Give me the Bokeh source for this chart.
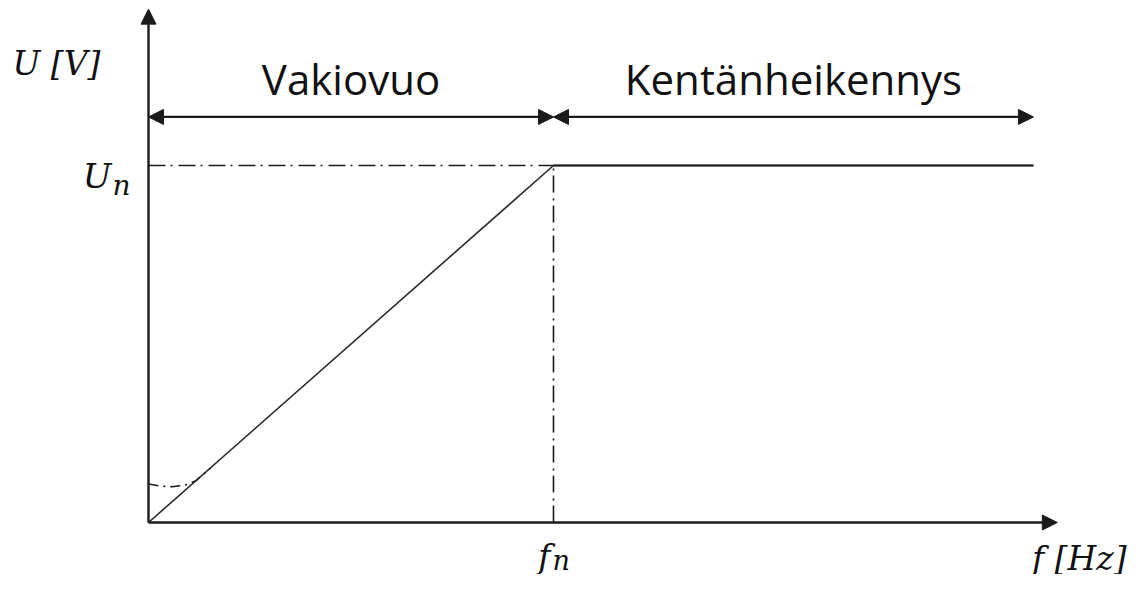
from bokeh.plotting import figure
from bokeh.models import Range1d, Arrow, NormalHead
from bokeh.core.properties import value
from bokeh.embed import file_html
from bokeh.resources import INLINE

# --- data (units: f / f_n and U / U_n) ---
vf_f = [0.0, 1.0, 2.185]          # V/f characteristic
vf_u = [0.0, 1.0, 1.0]
boost_f = [0.0, 0.030, 0.059, 0.091, 0.116, 0.153]   # low-speed boost curve
boost_u = [0.108, 0.102, 0.100, 0.105, 0.116, 0.152]
f_n = 1.0
U_n = 1.0
f_axis_max = 2.244
u_axis_max = 1.438
region_names = ["Vakiovuo", "Kentänheikennys"]
region_start = [0.0, 1.0]
region_end = [1.0, 2.185]
region_u = 1.136

# pixel scale used for the canvas
PX_F = 405.0
PX_U = 357.0
ORIGIN_X, ORIGIN_Y = 148, 522
W, H = 1129, 574
x0 = -ORIGIN_X / PX_F
y0 = -(H - ORIGIN_Y) / PX_U

p = figure(width=W, height=H, output_backend="svg", toolbar_location=None,
           x_range=Range1d(x0, x0 + W / PX_F), y_range=Range1d(y0, y0 + H / PX_U),
           x_axis_type=None, y_axis_type=None, min_border=0)
p.outline_line_color = None
p.grid.visible = False
p.background_fill_color = "white"

ink = "#1a1a1a"
dashdot = "17 5 2 6"

# axes with arrows
p.add_layout(Arrow(end=NormalHead(size=15, fill_color=ink, line_color=ink),
                   x_start=0, y_start=0, x_end=f_axis_max, y_end=0,
                   line_width=2.4, line_color=ink))
p.add_layout(Arrow(end=NormalHead(size=15, fill_color=ink, line_color=ink),
                   x_start=0, y_start=0, x_end=0, y_end=u_axis_max,
                   line_width=2.4, line_color=ink))

# region double arrows
for s, e in zip(region_start, region_end):
    p.add_layout(Arrow(start=NormalHead(size=15, fill_color=ink, line_color=ink),
                       end=NormalHead(size=15, fill_color=ink, line_color=ink),
                       x_start=s, y_start=region_u, x_end=e, y_end=region_u,
                       line_width=2.2, line_color=ink))

# dash-dot guides
p.line([0, f_n], [U_n, U_n], line_color=ink, line_width=1.6, line_dash=dashdot)
p.line([f_n, f_n], [0, U_n], line_color=ink, line_width=1.6, line_dash=dashdot)

# boost curve
p.line(boost_f, boost_u, line_color=ink, line_width=1.6, line_dash="10 5 2 5")

# V/f characteristic
p.line(vf_f, vf_u, line_color="#2a2a2a", line_width=1.6)
p.line(vf_f[1:], vf_u[1:], line_color=ink, line_width=1.8)

# region texts
p.text(x=[(s + e) / 2 for s, e in zip(region_start, region_end)],
       y=[1.244, 1.244], text=region_names,
       text_font=value("Open Sans"), text_font_size="42px",
       text_align="center", text_baseline="alphabetic", text_color="#111111")

serif = value("DejaVu Serif")
col = "#111111"
# axis labels (math style)
p.text(x=[-92 / PX_F], y=[1.285], text=["U [V]"], text_font=serif,
       text_font_style="italic", text_font_size="33px",
       text_align="center", text_baseline="alphabetic", text_color=col)
p.text(x=[-37 / PX_F], y=[U_n - 0.03], text=["U"], text_font=serif,
       text_font_style="italic", text_font_size="34px",
       text_align="right", text_baseline="alphabetic", text_color=col)
p.text(x=[-36 / PX_F], y=[U_n - 0.055], text=["n"], text_font=serif,
       text_font_style="italic", text_font_size="28px",
       text_align="left", text_baseline="alphabetic", text_color=col)
p.text(x=[f_n - 3 / PX_F], y=[-34 / PX_U], text=["f"], text_font=serif,
       text_font_style="italic", text_font_size="33px",
       text_align="right", text_baseline="alphabetic", text_color=col)
p.text(x=[f_n - 1 / PX_F], y=[-38 / PX_U], text=["n"], text_font=serif,
       text_font_style="italic", text_font_size="27px",
       text_align="left", text_baseline="alphabetic", text_color=col)
p.text(x=[(1126 - ORIGIN_X) / PX_F], y=[-36 / PX_U], text=["f [Hz]"], text_font=serif,
       text_font_style="italic", text_font_size="33px",
       text_align="right", text_baseline="alphabetic", text_color=col)

open("out.html", "w").write(file_html(p, INLINE))
